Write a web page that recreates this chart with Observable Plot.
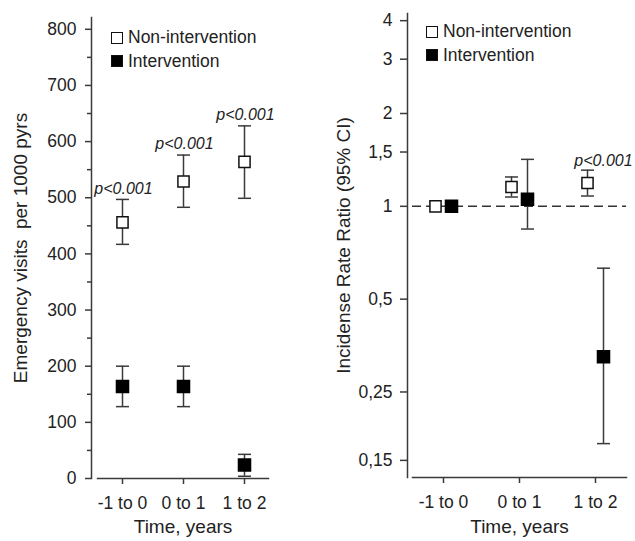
<!DOCTYPE html>
<html>
<head>
<meta charset="utf-8">
<script src="https://cdn.jsdelivr.net/npm/d3@7"></script>
<script src="https://cdn.jsdelivr.net/npm/@observablehq/plot@0.6"></script>
<style>
  html, body { margin: 0; padding: 0; background: #fff; }
  body { font-family: "Liberation Sans", Arial, sans-serif; color: #222; }
  #wrap { position: relative; width: 635px; height: 541px; overflow: hidden; }
  .panel { position: absolute; top: 0; }
  .legend { position: absolute; font-size: 17.5px; line-height: 1; }
  .legend .row { display: flex; align-items: center; height: 23.5px; }
  .legend .sw { width: 10px; height: 10px; border: 1.4px solid #111; margin-right: 5px; box-sizing: content-box; }
  .legend .sw.open { background: #fff; }
  .legend .sw.filled { background: #000; }
</style>
</head>
<body>
<div id="wrap"></div>
<script>
// ---------- data ----------
const periods = ["-1 to 0", "0 to 1", "1 to 2"];
const seriesNames = ["Non-intervention", "Intervention"];

// Left panel: Emergency visits per 1000 person-years (with 95% CI)
const visitsNon   = [456, 529, 564];
const visitsNonLo = [417, 483, 499];
const visitsNonHi = [497, 576, 628];
const visitsInt   = [164, 164, 24];
const visitsIntLo = [128, 128, 4];
const visitsIntHi = [200, 200, 43];
const visitsPLabels = ["p<0.001", "p<0.001", "p<0.001"];
const visitsTicks = [0, 100, 200, 300, 400, 500, 600, 700, 800];
const visitsMinorTicks = [50, 150, 250, 350, 450, 550, 650, 750];

// Right panel: Incidence rate ratio (with 95% CI)
const rateNon   = [1, 1.155, 1.19];
const rateNonLo = [1, 1.072, 1.08];
const rateNonHi = [1, 1.245, 1.31];
const rateInt   = [1, 1.054, 0.325];
const rateIntLo = [1, 0.844, 0.170];
const rateIntHi = [1, 1.42, 0.63];
const ratePLabels = ["", "", "p<0.001"];
const rateTicks = [0.15, 0.25, 0.5, 1, 1.5, 2, 3, 4];
const rateTickLabels = ["0,15", "0,25", "0,5", "1", "1,5", "2", "3", "4"];

const leftYTitle = "Emergency visits  per 1000 pyrs";
const rightYTitle = "Incidense Rate Ratio (95% CI)";
const xTitle = "Time, years";

// ---------- helpers ----------
const rows = (v, lo, hi, p) => periods.map((period, i) => ({period, v: v[i], lo: lo[i], hi: hi[i], p: p ? p[i] : ""}));
const capSymbol = {
  draw(context, size) {
    const w = Math.sqrt(size / Math.PI);
    context.moveTo(-w, 0);
    context.lineTo(w, 0);
  }
};
const AX = "#3a3a3a";
const FS = 17.5;
const style = {fontFamily: '"Liberation Sans", Arial, sans-serif', fontSize: "17.5px", color: "#222", background: "transparent", overflow: "visible"};

function errorMarks(data, dx) {
  return [
    Plot.ruleX(data, {x: "period", y1: "lo", y2: "hi", dx, stroke: AX, strokeWidth: 1.5}),
    Plot.dot(data, {x: "period", y: "lo", dx, symbol: capSymbol, r: 6.5, fill: "none", stroke: AX, strokeWidth: 1.5}),
    Plot.dot(data, {x: "period", y: "hi", dx, symbol: capSymbol, r: 6.5, fill: "none", stroke: AX, strokeWidth: 1.5})
  ];
}

// ---------- left panel ----------
const leftNon = rows(visitsNon, visitsNonLo, visitsNonHi, visitsPLabels);
const leftInt = rows(visitsInt, visitsIntLo, visitsIntHi);

const left = Plot.plot({
  width: 320, height: 541,
  marginLeft: 97, marginRight: 52, marginTop: 17, marginBottom: 63,
  style,
  x: {type: "point", domain: periods, padding: 0.4, axis: null},
  y: {domain: [0, 821], axis: null},
  marks: [
    Plot.frame({anchor: "left", dx: -6, stroke: AX, strokeWidth: 1.5}),
    Plot.frame({anchor: "bottom", stroke: AX, strokeWidth: 1.5}),
    Plot.axisY({ticks: visitsTicks, tickSize: 6, tickPadding: 9, dx: -6, stroke: AX, strokeWidth: 1.5, label: null, fill: "#222", fontSize: FS}),
    Plot.axisY({ticks: visitsMinorTicks, tickSize: 4, dx: -6, text: null, stroke: AX, strokeWidth: 1.5, label: null}),
    Plot.axisX({tickSize: 6, tickPadding: 12, stroke: AX, strokeWidth: 1.5, label: null, fill: "#222", fontSize: FS}),
    ...errorMarks(leftNon, 0),
    ...errorMarks(leftInt, 0),
    Plot.dot(leftNon, {x: "period", y: "v", symbol: "square", r: 6.3, fill: "white", stroke: "#111", strokeWidth: 1.5}),
    Plot.dot(leftInt, {x: "period", y: "v", symbol: "square", r: 6.8, fill: "black", stroke: "black"}),
    Plot.text(leftNon, {x: "period", y: "hi", text: "p", dy: -11, dx: 1, fontStyle: "italic", fontSize: 16, fill: "#222"}),
    Plot.text([leftYTitle], {text: d => d, frameAnchor: "left", textAnchor: "middle", rotate: -90, dx: -77, fontSize: 19, fill: "#222"}),
    Plot.text([xTitle], {text: d => d, frameAnchor: "bottom", dy: 54, fontSize: 19, fill: "#222"})
  ]
});

// ---------- right panel ----------
const rightNon = rows(rateNon, rateNonLo, rateNonHi, ratePLabels);
const rightInt = rows(rateInt, rateIntLo, rateIntHi);

const right = Plot.plot({
  width: 315, height: 541,
  marginLeft: 92, marginRight: 9, marginTop: 13, marginBottom: 64,
  style,
  x: {type: "point", domain: periods, padding: 0.39, axis: null},
  y: {type: "log", domain: [0.132, 4.22], axis: null},
  marks: [
    Plot.frame({anchor: "left", dx: -5, stroke: AX, strokeWidth: 1.5}),
    Plot.frame({anchor: "bottom", stroke: AX, strokeWidth: 1.5}),
    Plot.axisY({ticks: rateTicks, tickFormat: (d) => rateTickLabels[rateTicks.indexOf(d)], tickSize: 7, tickPadding: 8, dx: -5, stroke: AX, strokeWidth: 1.5, label: null, fill: "#222", fontSize: FS}),
    Plot.axisX({tickSize: 6, tickPadding: 12, stroke: AX, strokeWidth: 1.5, label: null, fill: "#222", fontSize: FS}),
    Plot.ruleY([1], {stroke: "#333", strokeWidth: 1.5, strokeDasharray: "9,5"}),
    ...errorMarks(rightNon.slice(1), -8),
    ...errorMarks(rightInt.slice(1), 8),
    Plot.dot(rightNon, {x: "period", y: "v", dx: -8, symbol: "square", r: 6.3, fill: "white", stroke: "#111", strokeWidth: 1.5}),
    Plot.dot(rightInt, {x: "period", y: "v", dx: 8, symbol: "square", r: 6.8, fill: "black", stroke: "black"}),
    Plot.text(rightNon, {x: "period", y: "hi", text: "p", dx: 8, dy: -9, fontStyle: "italic", fontSize: 16, fill: "#222"}),
    Plot.text([rightYTitle], {text: d => d, frameAnchor: "left", textAnchor: "middle", rotate: -90, dx: -69, fontSize: 19, fill: "#222"}),
    Plot.text([xTitle], {text: d => d, frameAnchor: "bottom", dy: 55, fontSize: 19, fill: "#222"})
  ]
});

// ---------- assemble ----------
const wrap = document.getElementById("wrap");
left.classList.add("panel"); left.style.left = "0px";
right.classList.add("panel"); right.style.left = "320px";
wrap.appendChild(left);
wrap.appendChild(right);

function legend(x, y) {
  const div = document.createElement("div");
  div.className = "legend";
  div.style.left = x + "px";
  div.style.top = y + "px";
  seriesNames.forEach((name, i) => {
    const row = document.createElement("div");
    row.className = "row";
    const sw = document.createElement("span");
    sw.className = "sw " + (i === 0 ? "open" : "filled");
    const t = document.createElement("span");
    t.textContent = name;
    row.appendChild(sw);
    row.appendChild(t);
    div.appendChild(row);
  });
  wrap.appendChild(div);
}
legend(111, 26);
legend(426, 20);
</script>
</body>
</html>
